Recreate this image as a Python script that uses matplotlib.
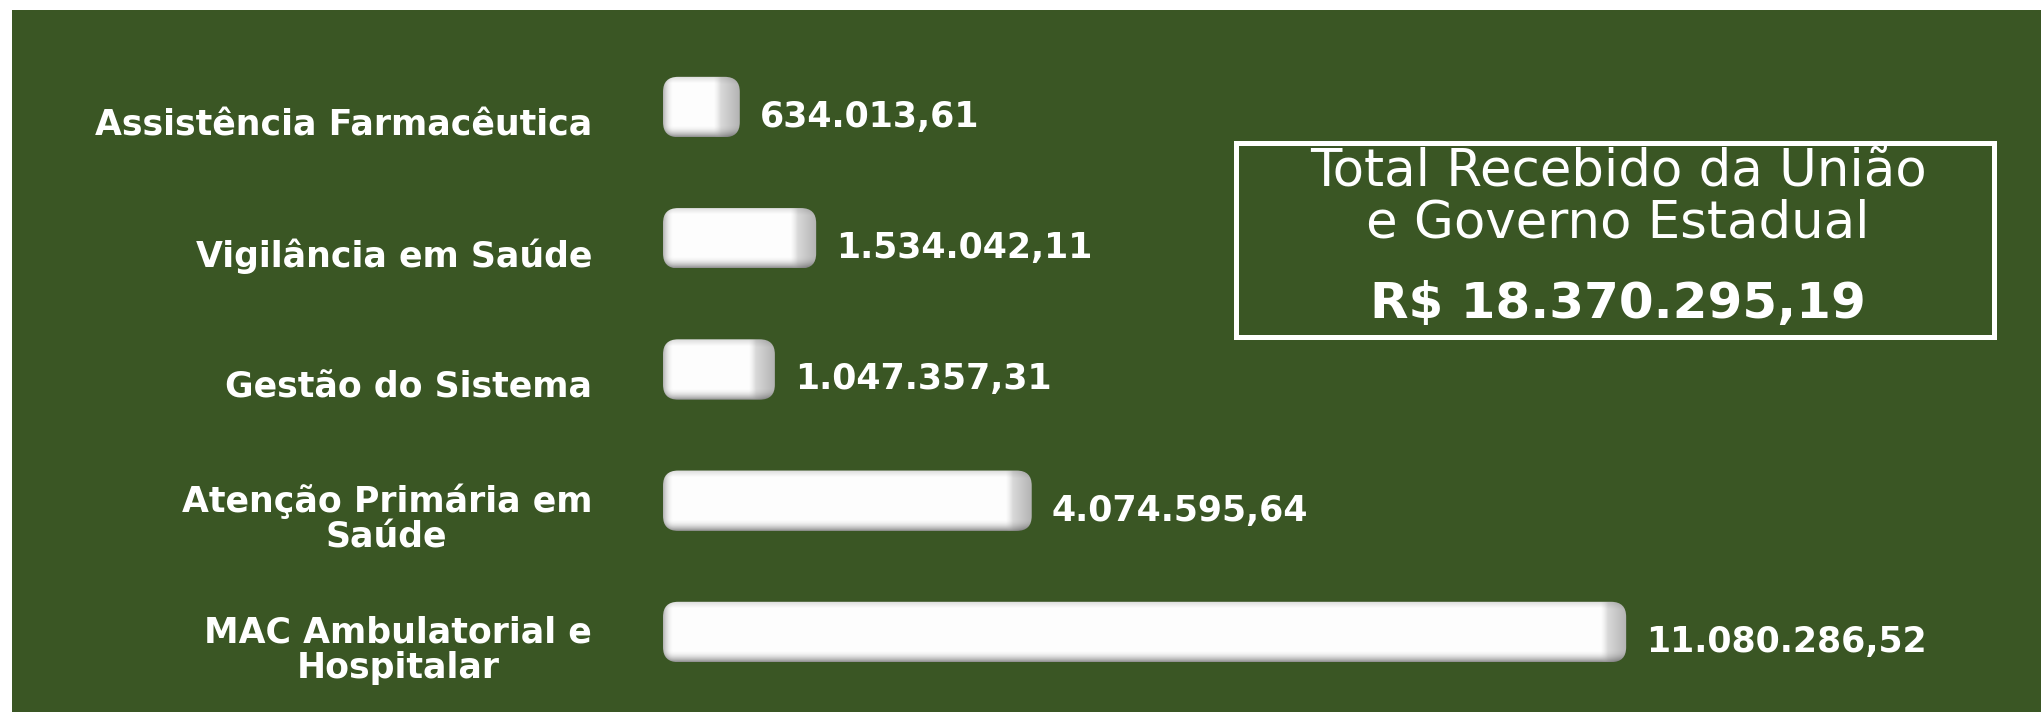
import numpy as np
import matplotlib
matplotlib.use('Agg')
import matplotlib.pyplot as plt
from matplotlib.patches import FancyBboxPatch, Rectangle

# dados do gráfico
categorias = ['Assistência Farmacêutica', 'Vigilância em Saúde', 'Gestão do Sistema',
              'Atenção Primária em\nSaúde', 'MAC Ambulatorial e\nHospitalar']
valores = [634013.61, 1534042.11, 1047357.31, 4074595.64, 11080286.52]
rotulos = ['634.013,61', '1.534.042,11', '1.047.357,31', '4.074.595,64', '11.080.286,52']
caixa_linhas = ['Total Recebido da União', 'e Governo Estadual']
total = 'R$ 18.370.295,19'

verde = '#3a5624'
plt.rcParams['font.family'] = ['DejaVu Sans']

W, H = 2041, 712
fig = plt.figure(figsize=(W / 100, H / 100), dpi=100, facecolor='white')
fig.add_artist(Rectangle((12 / W, 0), 1, 1 - 10 / H, transform=fig.transFigure,
                         facecolor=verde, edgecolor='none', zorder=-10))

ax = fig.add_axes([663 / W, 1 - 697.6 / H, 1357.6 / W, 656.2 / H])
ax.set_xlim(0, 16e6)
ax.set_ylim(-0.5, 4.5)
ax.axis('off')

pos = np.arange(len(valores))[::-1]
barras = ax.barh(pos, valores, height=0.46, color='white')

# pixels por unidade de dado
p0 = ax.transData.transform((0, 0))
p1 = ax.transData.transform((1, 1))
sx, sy = p1[0] - p0[0], p1[1] - p0[1]
PROF = 23   # profundidade 3D em px
RAIO = 15   # arredondamento em px


def sombra(nx, ny, d):
    X, Y = np.meshgrid(np.arange(nx) + 0.5, np.arange(ny) + 0.5)
    s = np.full((ny, nx), 0.995)
    s -= 0.30 * np.clip(1 - X / 11, 0, 1) ** 2
    s -= 0.14 * np.clip(1 - Y / 7, 0, 1)
    s -= 0.45 * np.clip((Y - (ny - 12)) / 12, 0, 1) ** 2
    t = np.clip((X - (nx - d)) / d, 0, 1)
    lado = 0.88 - 0.18 * t
    lado -= 0.30 * np.clip((Y - (ny - 12)) / 12, 0, 1) ** 2
    lado -= 0.10 * np.clip(1 - Y / 8, 0, 1)
    m = np.clip((X - (nx - d - 3)) / 7, 0, 1)
    s = s * (1 - m) + lado * m
    s = np.clip(s, 0, 1)
    return np.dstack([s, s, s])


for b in barras:
    x0, y0, w, h = b.get_x(), b.get_y(), b.get_width(), b.get_height()
    larg = w + PROF / sx
    nx, ny = int(round(larg * sx)), int(round(h * sy))
    forma = FancyBboxPatch((x0, y0), larg, h,
                           boxstyle=f'round,pad=0,rounding_size={RAIO / sx}',
                           mutation_aspect=sx / sy, fc='none', ec='none')
    ax.add_patch(forma)
    im = ax.imshow(sombra(nx, ny, PROF), extent=[x0, x0 + larg, y0, y0 + h],
                   aspect='auto', interpolation='bilinear', zorder=2)
    im.set_clip_path(forma)
    b.set_visible(False)

ax.set_xlim(0, 16e6)
ax.set_ylim(-0.5, 4.5)

pt = 72 / 100
for b, cat, rot in zip(barras, categorias, rotulos):
    yc = b.get_y() + b.get_height() / 2
    ax.annotate(rot, xy=(b.get_width(), yc), xytext=(43 * pt, -20 * pt),
                textcoords='offset points', ha='left', va='baseline',
                color='white', fontsize=25, fontweight='bold')
    ax.annotate(cat, xy=(0, yc), xytext=(-71 * pt, -18 * pt),
                textcoords='offset points', ha='right', va='center',
                multialignment='center', linespacing=1.05,
                color='white', fontsize=25, fontweight='bold')

# caixa do total
fig.add_artist(Rectangle((1236 / W, 1 - 337.5 / H), 758 / W, 194 / H,
                         transform=fig.transFigure, facecolor='none',
                         edgecolor='white', linewidth=3.6))
cx = 1618 / W
fig.text(cx, 1 - 186 / H, caixa_linhas[0], ha='center', va='baseline',
         color='white', fontsize=37)
fig.text(cx, 1 - 238 / H, caixa_linhas[1], ha='center', va='baseline',
         color='white', fontsize=37)
fig.text(cx, 1 - 318 / H, total, ha='center', va='baseline',
         color='white', fontsize=36, fontweight='bold')

fig.savefig('out.png', dpi=100, facecolor='white')
